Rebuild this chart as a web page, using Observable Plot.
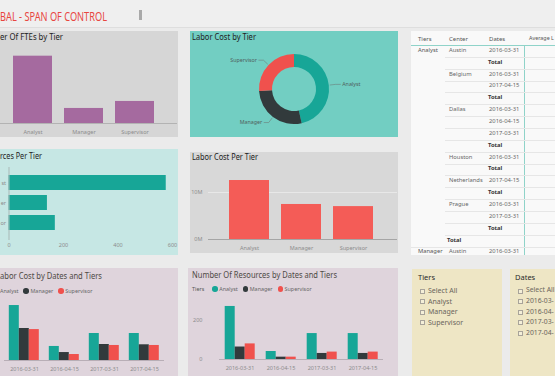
<!DOCTYPE html>
<html><head><meta charset="utf-8">
<script src="https://cdn.jsdelivr.net/npm/d3@7"></script>
<script src="https://cdn.jsdelivr.net/npm/@observablehq/plot@0.6"></script>
<style>
html,body{margin:0;padding:0}
body{width:555px;height:376px;overflow:hidden;background:#ebebeb;position:relative;font-family:"Noto Sans",sans-serif}
.p{position:absolute;overflow:hidden}
.t{position:absolute;white-space:nowrap;transform-origin:0 0}
svg{display:block}
</style></head><body>
<script>
// ---------- data ----------
const tiers = ["Analyst", "Manager", "Supervisor"];
const tierVisibleEnds = ["st", "er", "or"]; // what the cropped reference shows of the tier labels
const tierColors = ["#17a697", "#323a3c", "#f0514d"];
const fteByTier = [577, 129, 189];
const resourcesByTier = [577, 141, 170];
const laborCostByTier = [12.55e6, 7.45e6, 7.0e6];
const dates = ["2016-03-31", "2016-04-15", "2017-03-31", "2017-04-15"];
const laborAnalyst = [5.6e6, 1.43e6, 2.75e6, 2.75e6];
const laborManager = [3.26e6, 0.81e6, 1.63e6, 1.6e6];
const laborSupervisor = [3.15e6, 0.61e6, 1.53e6, 1.53e6];
const resAnalyst = [272, 41, 133, 133];
const resManager = [64, 12, 31, 31];
const resSupervisor = [80, 12, 38, 38];
const resourceTicks = [0, 200, 400, 600];
const costTicks = [0, 10e6];
const dateResTicks = [0, 200];
const tableHeaders = ["Tiers", "Center", "Dates", "Average L"];
const rowTier = ["Analyst","","","","","","","","","","","","","","","","","Manager"];
const rowCenter = ["Austin","","Belgium","","","Dallas","","","","Houston","","Netherlands","","Prague","","","Total","Austin"];
const rowDate = ["2016-03-31","Total","2016-03-31","2017-04-15","Total","2016-03-31","2016-04-15","2017-03-31","Total","2016-03-31","Total","2017-04-15","Total","2016-03-31","2017-03-31","Total","","2016-03-31"];
const slicerTierItems = ["Select All", ...tiers];
const slicerDateItems = ["Select All", "2016-03-", "2016-04-", "2017-03-", "2017-04-"];

// ---------- helpers ----------
const body = document.body;
const FONT = '"Noto Sans", sans-serif';
function box(x, y, w, h, bg) {
  const d = document.createElement("div");
  d.className = "p";
  Object.assign(d.style, {left: x + "px", top: y + "px", width: w + "px", height: h + "px", background: bg});
  body.appendChild(d);
  return d;
}
const ctx = document.createElement("canvas").getContext("2d");
// text squeezed horizontally so that it spans x0..x1
function title(text, x0, x1, yc, size, color, weight = 400) {
  ctx.font = `${weight} ${size}px "Noto Sans"`;
  const W = ctx.measureText(text).width;
  const s = (x1 - x0) / W;
  const el = document.createElement("div");
  el.className = "t";
  el.textContent = text;
  Object.assign(el.style, {fontSize: size + "px", lineHeight: size + "px", color, fontWeight: weight,
    left: x0 + "px", top: (yc - 0.53 * size) + "px", transform: `scaleX(${s})`});
  body.appendChild(el);
}
function txt(s, x, yc, size, color, weight = 400) {
  const el = document.createElement("div");
  el.className = "t";
  el.textContent = s;
  Object.assign(el.style, {left: x + "px", top: (yc - 0.53 * size) + "px", fontSize: size + "px", lineHeight: size + "px", color, fontWeight: weight});
  body.appendChild(el);
  return el;
}
function put(svg, x, y) {
  svg.style.position = "absolute";
  svg.style.left = x + "px";
  svg.style.top = y + "px";
  svg.style.maxWidth = "none";
  body.appendChild(svg);
}
const st = {background: "transparent", overflow: "visible", fontFamily: FONT, fontSize: "5.5px", color: "#8c8c8c"};
function legend(x, yc, withTitle) {
  const c = document.createElement("div");
  Object.assign(c.style, {position: "absolute", top: (yc - 4) + "px", left: x + "px", height: "8px", display: "flex",
    alignItems: "center", whiteSpace: "nowrap", fontSize: "5.4px", color: "#666"});
  if (withTitle) { const t = document.createElement("span"); t.textContent = "Tiers"; t.style.marginRight = "8px"; t.style.color = "#555"; c.appendChild(t); }
  tiers.forEach((t, i) => {
    const dot = document.createElement("span");
    Object.assign(dot.style, {width: "5.5px", height: "5.5px", borderRadius: "50%", background: tierColors[i], display: "inline-block", flex: "none"});
    const s = document.createElement("span");
    s.textContent = t;
    s.style.marginLeft = "1.5px";
    if (i < tiers.length - 1) s.style.marginRight = "5px";
    c.appendChild(dot); c.appendChild(s);
  });
  body.appendChild(c);
}

// ---------- background / header ----------
box(0, 0, 555, 27, "#efefef");
box(0, 27, 555, 1, "#dedede");
title("BAL - SPAN OF CONTROL", 0, 107, 17.5, 12.5, "#e8463f");
box(139, 10, 3, 10, "#a9a9a9");

// panels
box(-40, 31, 218, 106, "#d6d6d6");
box(190, 31, 208, 106, "#72cec2");
box(-40, 149, 218, 106, "#c6e7e4");
box(190, 152, 208, 101, "#d8d8d8");
box(-40, 268, 218, 110, "#dfd4dc");
box(188, 268, 210, 110, "#dfd4dc");
box(411, 31, 150, 224, "#f9f9f9");
box(412, 269, 90, 110, "#eee6c5");
box(510, 269, 60, 110, "#eee6c5");

// titles
title("er Of FTEs by Tier", 0, 63, 37, 9, "#222");
title("Labor Cost by Tier", 192, 256, 37, 9, "#222");
title("rces Per Tier", 0, 42, 156, 9, "#222");
title("Labor Cost Per Tier", 192, 258, 157, 9, "#222");
title("abor Cost by Dates and Tiers", 0, 102, 276, 9.5, "#4e4a46");
title("Number Of Resources by Dates and Tiers", 192, 337, 275.5, 9.5, "#4e4a46");

// ---------- FTEs by tier ----------
put(Plot.plot({
  width: 178, height: 106, marginTop: 22, marginBottom: 14, marginLeft: 0, marginRight: 1,
  style: st,
  x: {domain: tiers, range: [1, 166], padding: 0.235, label: null, tickSize: 0, tickPadding: 6.8},
  y: {domain: [0, 600], axis: null},
  marks: [
    Plot.barY(fteByTier, {x: tiers, y: d => d, fill: "#a56a9f"}),
    Plot.ruleY([0], {stroke: "#b3b3b3"})
  ]
}), 0, 31);

// ---------- Labor cost by tier (donut) ----------
const donutData = tiers.map((t, i) => ({tier: t, value: laborCostByTier[i]}));
put(Plot.plot({
  width: 208, height: 106, margin: 0, style: st,
  marks: [
    (index, scales) => {
      const color = (scales && scales.color) || d3.scaleOrdinal(tiers, tierColors);
      const cx = 104, cy = 58, R = 35, r = 22;
      const g = d3.create("svg:g").attr("transform", `translate(${cx},${cy})`);
      const arcs = d3.pie().sort(null).value(d => d.value)(donutData);
      const arc = d3.arc().innerRadius(r).outerRadius(R);
      g.selectAll("path").data(arcs).join("path").attr("d", arc).attr("fill", d => color(d.data.tier));
      arcs.forEach(a => {
        const m = (a.startAngle + a.endAngle) / 2;
        const sx = Math.sin(m), sy = -Math.cos(m);
        const side = sx >= 0 ? 1 : -1;
        const p1 = [sx * (R + 1), sy * (R + 1)], p2 = [sx * (R + 7), sy * (R + 7)];
        const p3 = [p2[0] + side * 5, p2[1]];
        g.append("path").attr("d", `M${p1}L${p2}L${p3}`).attr("fill", "none").attr("stroke", "#6b7d7a").attr("stroke-width", 0.6);
        g.append("text").attr("x", p3[0] + side * 1.5).attr("y", p3[1]).attr("dy", "0.35em")
          .attr("text-anchor", side > 0 ? "start" : "end").attr("font-size", 5.3).attr("fill", "#50605d").text(a.data.tier);
      });
      return g.node();
    }
  ]
}), 190, 31);

// ---------- Resources per tier ----------
put(Plot.plot({
  width: 178, height: 106, marginTop: 21, marginBottom: 19, marginLeft: 8.5, marginRight: 6,
  style: st,
  x: {domain: [0, 600], ticks: resourceTicks, tickSize: 0, tickPadding: 6.8, label: null},
  y: {domain: tiers, padding: 0.245, tickSize: 0, tickPadding: 3, label: null, tickFormat: d => tierVisibleEnds[tiers.indexOf(d)]},
  marks: [
    Plot.barX(resourcesByTier, {y: tiers, x: d => d, fill: "#17a697"}),
    Plot.ruleX([0], {stroke: "#a9b9b7", insetTop: -3, insetBottom: -4})
  ]
}), 0, 149);

// ---------- Labor cost per tier ----------
put(Plot.plot({
  width: 208, height: 101, marginTop: 16.5, marginBottom: 14, marginLeft: 18, marginRight: 1,
  style: st,
  x: {domain: tiers, range: [25.5, 195.5], padding: 0.238, label: null, tickSize: 0, tickPadding: 6.8},
  y: {domain: [0, 15e6], ticks: costTicks, tickFormat: d => d / 1e6 + "M", tickSize: 0, tickPadding: 6, label: null},
  marks: [
    Plot.ruleY([10e6], {stroke: "#e8e8e8"}),
    Plot.barY(laborCostByTier, {x: tiers, y: d => d, fill: "#f45c57"}),
    Plot.ruleY([0], {stroke: "#a5a5a5"})
  ]
}), 190, 152);

// ---------- grouped bars ----------
const laborRows = dates.flatMap((d, i) => [
  {date: d, tier: "Analyst", value: laborAnalyst[i]},
  {date: d, tier: "Manager", value: laborManager[i]},
  {date: d, tier: "Supervisor", value: laborSupervisor[i]}
]);
const resRows = dates.flatMap((d, i) => [
  {date: d, tier: "Analyst", value: resAnalyst[i]},
  {date: d, tier: "Manager", value: resManager[i]},
  {date: d, tier: "Supervisor", value: resSupervisor[i]}
]);

legend(-7, 291, false);
put(Plot.plot({
  width: 178, height: 80, marginTop: 5.1, marginBottom: 16, marginLeft: 2.2, marginRight: 13.2,
  style: st,
  fx: {domain: dates, padding: 0, axis: "bottom", tickSize: 0, tickPadding: 7, label: null},
  x: {domain: tiers, paddingInner: 0, paddingOuter: 0.468, axis: null},
  y: {domain: [0, 6e6], axis: null},
  color: {domain: tiers, range: tierColors},
  marks: [
    Plot.barY(laborRows, {fx: "date", x: "tier", y: "value", fill: "tier"}),
    Plot.ruleY([0], {stroke: "#b8aeb6"})
  ]
}), 0, 296);

legend(192, 289, true);
put(Plot.plot({
  width: 210, height: 80, marginTop: 4.5, marginBottom: 17, marginLeft: 30.3, marginRight: 14.3,
  style: st,
  fx: {domain: dates, padding: 0, axis: "bottom", tickSize: 0, tickPadding: 7, label: null},
  x: {domain: tiers, paddingInner: 0, paddingOuter: 0.437, axis: null},
  y: {domain: [0, 300], ticks: dateResTicks, tickSize: 0, tickPadding: 17, label: null},
  color: {domain: tiers, range: tierColors},
  marks: [
    Plot.barY(resRows, {fx: "date", x: "tier", y: "value", fill: "tier"}),
    Plot.ruleY([0], {stroke: "#b8aeb6"})
  ]
}), 188, 296);

// ---------- table ----------
const colX = [418, 449, 489, 529];
tableHeaders.forEach((h, i) => txt(h, colX[i], 39, i === 3 ? 5.4 : 6, "#555"));
box(411, 45, 150, 1, "#8fd3c9");
box(524, 45, 1, 210, "#8fd3c9");
const rowH = 11.85;
rowDate.forEach((d, i) => {
  const y = 51 + i * rowH;
  if (rowTier[i]) txt(rowTier[i], 418, y, 5.8, "#555");
  if (rowCenter[i]) {
    if (rowCenter[i] === "Total") txt("Total", 447, y, 5.8, "#333", 700);
    else txt(rowCenter[i], 449, y, 5.8, "#666");
  }
  if (d === "Total") txt("Total", 488, y, 5.8, "#333", 700);
  else if (d) txt(d, 489, y, 5.8, "#666");
  if (i < rowDate.length - 1) box(rowCenter[i] === "Total" ? 411 : 445, y + 5.9, 150, 1, "#e6e6e6");
});

// ---------- slicers ----------
txt("Tiers", 418, 278, 7.5, "#2a2a2a");
txt("Dates", 515, 278, 7.5, "#2a2a2a");
function checkbox(x, yc) {
  const b = box(x, yc - 2.5, 5, 5, "#f4efd8");
  b.style.boxSizing = "border-box";
  b.style.border = "0.8px solid #a8a39a";
}
slicerTierItems.forEach((s, i) => {
  const y = 291 + i * 10.6;
  checkbox(420, y);
  txt(s, 428, y, 7, "#6a655c");
});
slicerDateItems.forEach((s, i) => {
  const y = 291 + i * 10.6;
  checkbox(518, y);
  txt(s, 526, y, 6.8, "#6a655c");
});
</script>
</body></html>
